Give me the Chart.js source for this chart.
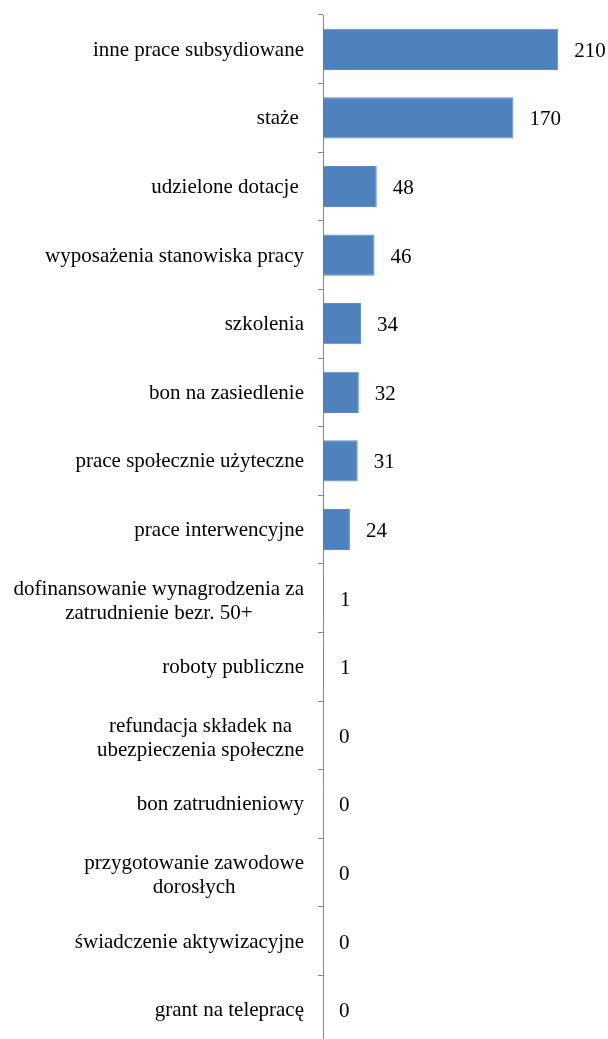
<!DOCTYPE html>
<html>
<head>
<meta charset="utf-8">
<script src="https://cdn.jsdelivr.net/npm/chart.js@4"></script>
<style>
  html, body { margin: 0; padding: 0; background: #fff; overflow: hidden; }
  .canvas-container { width: 608px; height: 1046px; }
</style>
</head>
<body>
<div class="canvas-container"><canvas id="bar-canvas"></canvas></div>
<script>
const categories = [
  'inne prace subsydiowane',
  'staże ',
  'udzielone dotacje ',
  'wyposażenia stanowiska pracy',
  'szkolenia',
  'bon na zasiedlenie',
  'prace społecznie użyteczne',
  'prace interwencyjne',
  ['dofinansowanie wynagrodzenia za', 'zatrudnienie bezr. 50+'],
  'roboty publiczne',
  ['refundacja składek na', 'ubezpieczenia społeczne'],
  'bon zatrudnieniowy',
  ['przygotowanie zawodowe', 'dorosłych'],
  'świadczenie aktywizacyjne',
  'grant na telepracę'
]
const values = [210, 170, 48, 46, 34, 32, 31, 24, 1, 1, 0, 0, 0, 0, 0]

const FONT = '21px "Liberation Serif", "Times New Roman", serif'

// category labels: right aligned block, lines centered inside it
const labelsPlugin = {
  id: 'labels',
  afterDraw(chart) {
    const { ctx } = chart
    const yScale = chart.scales.y
    const right = 304
    const lineHeight = 24
    ctx.save()
    ctx.font = FONT
    ctx.fillStyle = '#000'
    ctx.textAlign = 'center'
    ctx.textBaseline = 'middle'
    categories.forEach((label, i) => {
      const lines = Array.isArray(label) ? label : [label]
      const blockWidth = Math.max(...lines.map(l => ctx.measureText(l).width))
      const cx = right - blockWidth / 2
      const y = yScale.getPixelForTick(i) + (lines.length > 1 ? 3 : 1)
      lines.forEach((line, j) => {
        ctx.fillText(line, cx, y + (j - (lines.length - 1) / 2) * lineHeight)
      })
    })
    ctx.restore()
  }
}

// value labels to the right of each bar
const valuesPlugin = {
  id: 'values',
  afterDatasetsDraw(chart) {
    const { ctx } = chart
    const meta = chart.getDatasetMeta(0)
    ctx.save()
    ctx.font = FONT
    ctx.fillStyle = '#000'
    ctx.textAlign = 'left'
    ctx.textBaseline = 'middle'
    meta.data.forEach((bar, i) => {
      ctx.fillText(String(values[i]), bar.x + 16, bar.y + 2)
    })
    ctx.restore()
  }
}

new Chart(document.querySelector('#bar-canvas'), {
  type: 'bar',
  data: {
    labels: categories,
    datasets: [{
      data: values,
      backgroundColor: '#4F81BD',
      borderColor: '#5B8BC6',
      borderWidth: 1,
      barPercentage: 0.6,
      categoryPercentage: 1
    }]
  },
  options: {
    indexAxis: 'y',
    responsive: true,
    maintainAspectRatio: false,
    animation: false,
    devicePixelRatio: 1,
    layout: { padding: { top: 15, bottom: 2, right: 5, left: 0 } },
    plugins: {
      legend: { display: false },
      tooltip: { enabled: false }
    },
    scales: {
      x: { display: false, min: 0, max: 250 },
      y: {
        afterFit(scale) { scale.width = 323 },
        grid: {
          drawOnChartArea: false,
          color: '#868686',
          tickLength: 5,
          offset: true
        },
        border: { color: '#868686', width: 1 },
        ticks: { display: false }
      }
    }
  },
  plugins: [labelsPlugin, valuesPlugin]
})
</script>
</body>
</html>
